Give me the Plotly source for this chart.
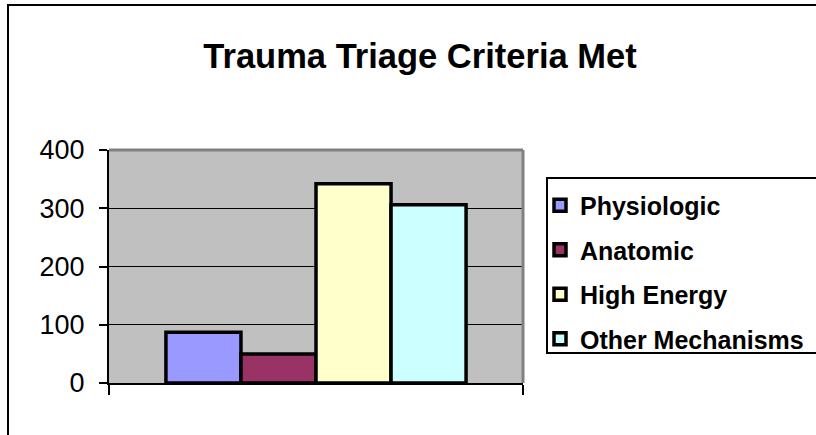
import plotly.graph_objects as go

categories = ["Criteria"]
series_names = ["Physiologic", "Anatomic", "High Energy", "Other Mechanisms"]
series_values = [87, 50, 342, 306]
series_colors = ["#9999FF", "#993366", "#FFFFCC", "#CCFFFF"]
y_ticks = [0, 100, 200, 300, 400]

W, H = 816, 435
L, R, T, B = 109, 293, 150, 52
pw, ph = W - L - R, H - T - B

def px_x(x):
    return (x - L) / pw

def px_y(y):
    return (H - B - y) / ph

FONT = "Arial, Liberation Sans, sans-serif"

fig = go.Figure()
for i, (name, val, col) in enumerate(zip(series_names, series_values, series_colors)):
    fig.add_trace(go.Bar(
        x=categories, y=[val], name=name, legendgroup=f"g{i}",
        marker=dict(color=col, line=dict(color="black", width=3.5)),
    ))

fig.update_layout(
    width=W, height=H,
    margin=dict(l=L, r=R, t=T, b=B, autoexpand=False),
    paper_bgcolor="white",
    plot_bgcolor="#C0C0C0",
    barmode="group",
    bargap=0.275,
    bargroupgap=0,
    title=dict(text="Trauma Triage Criteria Met", x=420 / W, xref="container",
               xanchor="center", y=1 - 56 / H, yref="container", yanchor="middle",
               font=dict(family=FONT, size=34.5, color="black", weight="bold")),
    showlegend=True,
    legend=dict(x=px_x(547), y=px_y(182.5), xanchor="left", yanchor="top",
                borderwidth=0, bgcolor="rgba(0,0,0,0)",
                font=dict(family=FONT, size=25, color="black", weight="bold"),
                tracegroupgap=9, indentation=-7),
    xaxis=dict(type="category", showticklabels=False, ticks="outside", tickson="boundaries",
               ticklen=10, tickwidth=1.5, tickcolor="black",
               showline=True, linecolor="black", linewidth=2, showgrid=False, zeroline=False),
    yaxis=dict(range=[0, 400], tickvals=y_ticks, ticks="outside", ticklen=8, tickwidth=1.5,
               tickcolor="black", showline=True, linecolor="black", linewidth=2,
               showgrid=True, gridcolor="black", gridwidth=1, zeroline=False,
               tickfont=dict(family=FONT, size=27, color="black"), ticklabelstandoff=9),
    shapes=[
        dict(type="line", xref="paper", yref="paper", x0=0, x1=1, y0=1, y1=1,
             line=dict(color="#808080", width=3), layer="above"),
        dict(type="line", xref="paper", yref="paper", x0=1, x1=1, y0=0, y1=1,
             line=dict(color="#808080", width=3), layer="above"),
        dict(type="rect", xref="paper", yref="paper", x0=px_x(8), x1=px_x(840),
             y0=px_y(460), y1=px_y(5), line=dict(color="black", width=2),
             fillcolor="rgba(0,0,0,0)", layer="above"),
        dict(type="rect", xref="paper", yref="paper", x0=px_x(547), x1=px_x(840),
             y0=px_y(353), y1=px_y(178), line=dict(color="black", width=2),
             fillcolor="white", layer="below"),
    ],
)

fig.write_html("out.html", config={"displayModeBar": False},
               post_script="document.body.style.margin='0';document.body.style.overflow='hidden';")
